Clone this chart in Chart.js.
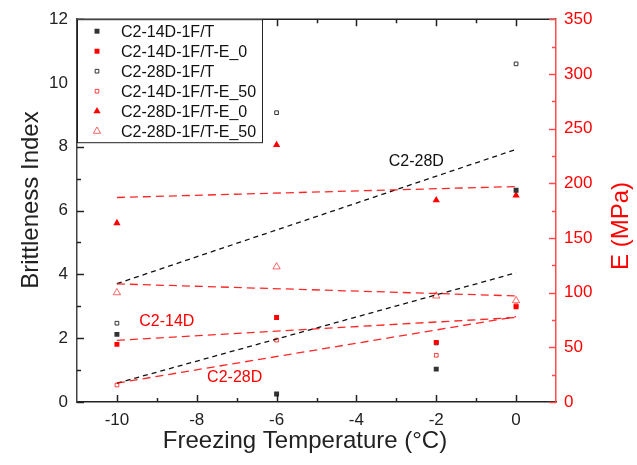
<!DOCTYPE html>
<html>
<head>
<meta charset="utf-8">
<script src="https://cdn.jsdelivr.net/npm/chart.js@4.4.0/dist/chart.umd.min.js"></script>
<style>
  html, body { margin: 0; padding: 0; background: #fff; }
  #wrap { width: 637px; height: 465px; }
</style>
</head>
<body>
<div id="wrap"><canvas id="chart"></canvas></div>
<script>
// freezing temperatures (°C)
const temps = [-10, -6, -2, 0];

// brittleness index (left axis)
const bi14 = [2.12, 0.25, 1.03, 6.64];
const bi28 = [2.47, 9.07, 1.85, 10.6];

// elastic modulus E (MPa, right axis)
const e14_0 = [52.7, 77.3, 54.5, 87];
const e14_50 = [15.5, 56.6, 42.7, 88];
const e28_0 = [163.6, 235, 184.5, 189];
const e28_50 = [100, 123.6, 97, 92.7];

// fitted trend lines, read at the ends (-10 and 0)
const fitX = [-10, 0];
const fitBi28 = [3.71, 7.92];
const fitBi14 = [0.59, 4.05];
const fitE28_0 = [187, 197];
const fitE28_50 = [108, 97];
const fitE14_0 = [56.4, 77.3];
const fitE14_50 = [17.3, 78];

// axis ticks
const xTicks = [-10, -8, -6, -4, -2, 0];
const biTicks = [0, 2, 4, 6, 8, 10, 12];
const eTicks = [0, 50, 100, 150, 200, 250, 300, 350];

// text notes on the plot
const noteText = ['C2-28D', 'C2-14D', 'C2-28D'];
const noteX = [-2.5, -8.75, -7.05];
const noteY = [7.54, 2.52, 0.78];
const noteColor = ['#111', '#ff0000', '#ff0000'];

const RED = '#ff0000';
const DARK = '#222';
const FONT = "'Liberation Sans', Arial, sans-serif";

const pts = (xs, ys) => xs.map((x, i) => ({ x: x, y: ys[i] }));

const markerSets = [
    { label: 'C2-14D-1F/T', data: pts(temps, bi14), yAxisID: 'y', pointStyle: 'rect', pointRadius: 3.5, backgroundColor: '#333', borderColor: '#333', borderWidth: 0 },
    { label: 'C2-14D-1F/T-E_0', data: pts(temps, e14_0), yAxisID: 'y1', pointStyle: 'rect', pointRadius: 3.5, backgroundColor: RED, borderColor: RED, borderWidth: 0 },
    { label: 'C2-28D-1F/T', data: pts(temps, bi28), yAxisID: 'y', pointStyle: 'rect', pointRadius: 2.6, backgroundColor: '#fff', borderColor: '#333', borderWidth: 1 },
    { label: 'C2-14D-1F/T-E_50', data: pts(temps, e14_50), yAxisID: 'y1', pointStyle: 'rect', pointRadius: 2.6, backgroundColor: '#fff', borderColor: 'rgba(255,0,0,0.75)', borderWidth: 1 },
    { label: 'C2-28D-1F/T-E_0', data: pts(temps, e28_0), yAxisID: 'y1', pointStyle: 'triangle', pointRadius: 4.2, backgroundColor: RED, borderColor: RED, borderWidth: 0 },
    { label: 'C2-28D-1F/T-E_50', data: pts(temps, e28_50), yAxisID: 'y1', pointStyle: 'triangle', pointRadius: 4.2, backgroundColor: '#fff', borderColor: 'rgba(255,0,0,0.6)', borderWidth: 1 }
];

const fitLine = (ys, axis, color, dash) => ({
    label: 'fit', data: pts(fitX, ys), yAxisID: axis, showLine: true, pointRadius: 0,
    borderColor: color, borderWidth: 1.3, borderDash: dash, fill: false
});

const fitSets = [
    fitLine(fitE28_0, 'y1', 'rgba(255,0,0,0.85)', [8, 5]),
    fitLine(fitE28_50, 'y1', 'rgba(255,0,0,0.85)', [8, 5]),
    fitLine(fitE14_0, 'y1', 'rgba(255,0,0,0.85)', [8, 5]),
    fitLine(fitE14_50, 'y1', 'rgba(255,0,0,0.85)', [8, 5]),
    fitLine(fitBi28, 'y', '#111', [5, 4]),
    fitLine(fitBi14, 'y', '#111', [5, 4])
];

// inward ticks, top frame, axis titles, legend box and notes
const decor = {
    id: 'decor',
    afterDraw(chart) {
        const ctx = chart.ctx;
        const a = chart.chartArea;
        const sx = chart.scales.x, sy = chart.scales.y, se = chart.scales.y1;
        ctx.save();
        ctx.lineWidth = 1.5;

        // top frame
        ctx.strokeStyle = DARK;
        ctx.beginPath();
        ctx.moveTo(a.left, a.top);
        ctx.lineTo(a.right, a.top);
        ctx.stroke();

        // x ticks bottom + top
        for (let v = -10; v <= 0; v++) {
            const px = Math.round(sx.getPixelForValue(v)) + 0.5;
            const len = v % 2 === 0 ? 7 : 4;
            ctx.beginPath();
            ctx.moveTo(px, a.bottom); ctx.lineTo(px, a.bottom - len);
            ctx.moveTo(px, a.top); ctx.lineTo(px, a.top + len);
            ctx.stroke();
        }
        // left ticks
        for (let v = 0; v <= 12; v++) {
            const py = Math.round(sy.getPixelForValue(v)) + 0.5;
            const len = v % 2 === 0 ? 7 : 4;
            ctx.beginPath();
            ctx.moveTo(a.left, py); ctx.lineTo(a.left + len, py);
            ctx.stroke();
        }
        // right ticks
        ctx.strokeStyle = '#ff4d4d';
        for (let v = 0; v <= 350; v += 25) {
            const py = Math.round(se.getPixelForValue(v)) + 0.5;
            const len = v % 50 === 0 ? 7 : 4;
            ctx.beginPath();
            ctx.moveTo(a.right, py); ctx.lineTo(a.right - len, py);
            ctx.stroke();
        }

        // axis titles
        ctx.font = '24px ' + FONT;
        ctx.textAlign = 'center';
        ctx.textBaseline = 'middle';
        ctx.fillStyle = DARK;
        ctx.fillText('Freezing Temperature (°C)', 305, 441);
        ctx.save();
        ctx.translate(31, 200);
        ctx.rotate(-Math.PI / 2);
        ctx.fillText('Brittleness Index', 0, 0);
        ctx.restore();
        ctx.save();
        ctx.translate(621, 226);
        ctx.rotate(-Math.PI / 2);
        ctx.fillStyle = RED;
        ctx.fillText('E (MPa)', 0, 0);
        ctx.restore();

        // legend
        const lx = a.left, ly = a.top, lw = 185, lh = 123;
        ctx.fillStyle = '#fff';
        ctx.fillRect(lx, ly, lw, lh);
        ctx.lineWidth = 1;
        ctx.strokeStyle = DARK;
        ctx.strokeRect(lx + 0.5, ly + 0.5, lw, lh);
        ctx.font = '16px ' + FONT;
        ctx.textBaseline = 'middle';
        ctx.textAlign = 'left';
        markerSets.forEach((ds, i) => {
            const y = ly + 12 + i * 20;
            ctx.fillStyle = ds.backgroundColor;
            ctx.strokeStyle = ds.borderColor;
            ctx.lineWidth = ds.borderWidth;
            Chart.helpers.drawPoint(ctx, {
                pointStyle: ds.pointStyle, radius: ds.pointRadius, rotation: 0, borderWidth: ds.borderWidth
            }, lx + 20, y);
            ctx.fillStyle = '#111';
            ctx.fillText(ds.label, lx + 44, y + 1);
        });

        // notes
        ctx.font = '16px ' + FONT;
        ctx.textAlign = 'center';
        noteText.forEach((t, i) => {
            ctx.fillStyle = noteColor[i];
            ctx.fillText(t, sx.getPixelForValue(noteX[i]), sy.getPixelForValue(noteY[i]));
        });
        ctx.restore();
    }
};

new Chart(document.getElementById('chart').getContext('2d'), {
    type: 'scatter',
    data: { datasets: fitSets.concat(markerSets) },
    options: {
        responsive: true,
        maintainAspectRatio: false,
        animation: false,
        layout: { padding: { top: 17, left: 0, right: 0, bottom: 0 } },
        plugins: { legend: { display: false }, tooltip: { enabled: false } },
        scales: {
            x: {
                type: 'linear', position: 'bottom', min: -11, max: 1,
                afterBuildTicks: s => { s.ticks = xTicks.map(v => ({ value: v })); },
                afterFit: s => { s.height = 63; },
                grid: { display: false, drawTicks: false },
                border: { color: DARK, width: 1.5 },
                ticks: { color: DARK, padding: 8, font: { family: FONT, size: 17 } }
            },
            y: {
                type: 'linear', position: 'left', min: 0, max: 12,
                afterBuildTicks: s => { s.ticks = biTicks.map(v => ({ value: v })); },
                afterFit: s => { s.width = 77; },
                grid: { display: false, drawTicks: false },
                border: { color: '#444', width: 1.5 },
                ticks: { color: DARK, padding: 9, font: { family: FONT, size: 17 } }
            },
            y1: {
                type: 'linear', position: 'right', min: 0, max: 350,
                afterBuildTicks: s => { s.ticks = eTicks.map(v => ({ value: v })); },
                afterFit: s => { s.width = 81; },
                grid: { display: false, drawTicks: false },
                border: { color: '#ff4d4d', width: 1.5 },
                ticks: { color: RED, padding: 8, font: { family: FONT, size: 17 } }
            }
        }
    },
    plugins: [decor]
});
</script>
</body>
</html>
